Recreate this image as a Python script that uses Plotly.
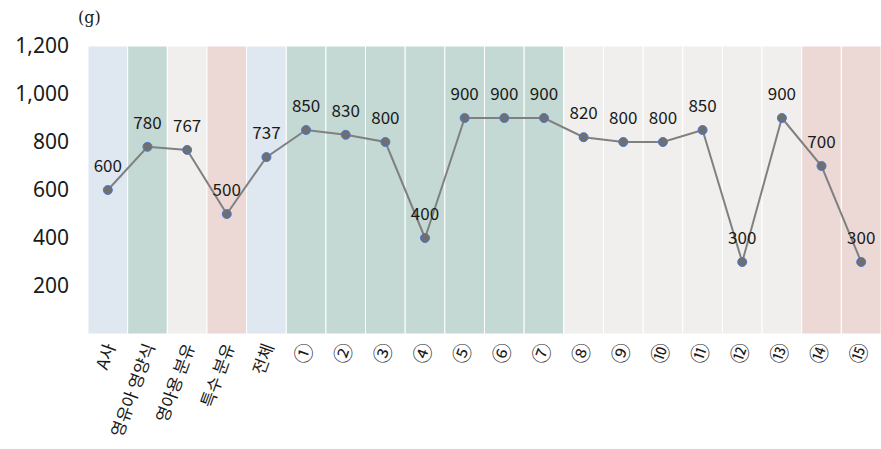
import plotly.graph_objects as go

categories = ["A사", "영유아 영양식", "영아용 분유", "특수 분유", "전체",
              "①", "②", "③", "④", "⑤", "⑥", "⑦",
              "⑧", "⑨", "⑩", "⑪", "⑫", "⑬", "⑭", "⑮"]
values = [600, 780, 767, 500, 737, 850, 830, 800, 400, 900, 900, 900,
          820, 800, 800, 850, 300, 900, 700, 300]
band_groups = ["blue", "green", "gray", "pink", "blue",
               "green", "green", "green", "green", "green", "green", "green",
               "gray", "gray", "gray", "gray", "gray", "gray", "pink", "pink"]
band_colors = {"blue": "#dfe7f1", "green": "#c4d9d3", "gray": "#f0efee", "pink": "#ecd9d6"}
y_ticks = [200, 400, 600, 800, 1000, 1200]

fig = go.Figure()

shapes = []
for i, g in enumerate(band_groups):
    shapes.append(dict(type="rect", xref="x", yref="y", x0=i - 0.5, x1=i + 0.5,
                       y0=0, y1=1200, fillcolor=band_colors[g],
                       line=dict(color="white", width=1), layer="below"))
for t in y_ticks:
    shapes.append(dict(type="line", xref="paper", yref="y", x0=0, x1=1, y0=t, y1=t,
                       line=dict(color="#c3c3c3", width=1), layer="below"))
shapes.append(dict(type="line", xref="paper", yref="y", x0=0, x1=1, y0=0, y1=0,
                   line=dict(color="#c3c3c3", width=2), layer="below"))

xs = list(range(len(categories)))
tick_text = [c if len(c) > 1 else '<span style="font-size:20px">' + c + '</span>'
             for c in categories]

fig.add_trace(go.Scatter(
    x=xs, y=values, mode="lines+markers",
    line=dict(color="#808080", width=2),
    marker=dict(size=9, color="#6f6f6f", line=dict(color="#4a78d0", width=1)),
    cliponaxis=False, showlegend=False, hoverinfo="skip"))

# labels (invisible larger marker to push text upward)
fig.add_trace(go.Scatter(
    x=xs, y=values, mode="markers+text",
    text=[str(v) for v in values], textposition="top center",
    textfont=dict(family="Noto Sans CJK KR", size=17, color="#1a1a1a"),
    marker=dict(size=20, opacity=0),
    cliponaxis=False, showlegend=False))

fig.update_layout(
    width=881, height=449,
    margin=dict(l=88, r=0, t=46, b=115),
    paper_bgcolor="white", plot_bgcolor="white",
    shapes=shapes,
    xaxis=dict(tickmode="array", tickvals=xs, ticktext=tick_text,
               range=[-0.5, len(categories) - 0.5], tickangle=-70, showgrid=False,
               zeroline=False, showline=False, ticks="",
               tickfont=dict(family="Noto Sans CJK KR", size=17, color="#1a1a1a")),
    yaxis=dict(range=[0, 1200], tickvals=y_ticks, tickformat=",", showgrid=False,
               zeroline=False, showline=False, ticks="", ticklabelstandoff=18,
               tickfont=dict(family="Noto Sans", size=21, color="#1a1a1a")),
    annotations=[dict(text="(g)", xref="paper", yref="paper", x=0, y=1, xshift=-12, yshift=29,
                      xanchor="left", yanchor="middle", showarrow=False,
                      font=dict(family="DejaVu Serif", size=16, color="#1a1a1a"))],
)

fig.write_html("out.html")
